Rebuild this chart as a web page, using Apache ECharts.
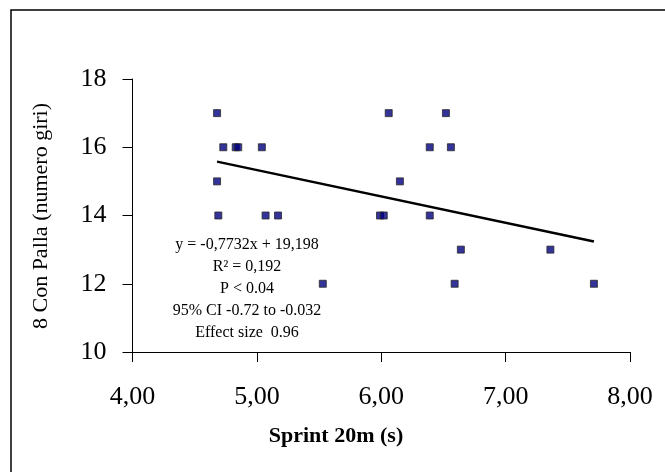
<!DOCTYPE html>
<html>
<head>
<meta charset="utf-8">
<script src="https://cdn.jsdelivr.net/npm/echarts@6/dist/echarts.min.js"></script>
<style>
  html, body { margin: 0; padding: 0; background: #fff; }
  #chart { width: 665px; height: 472px; }
</style>
</head>
<body>
<div id="chart"></div>
<script>
// Sprint 20m time (s) vs laps completed in the "8 con palla" drill
var sprintTimes = [4.68, 6.06, 6.52, 4.73, 4.83, 4.85, 5.04, 6.39, 6.56, 4.68, 6.15,
                   4.69, 5.07, 5.17, 5.99, 6.02, 6.39, 6.64, 7.36, 5.53, 6.59, 7.71];
var lapCounts   = [17, 17, 17, 16, 16, 16, 16, 16, 16, 15, 15,
                   14, 14, 14, 14, 14, 14, 13, 13, 12, 12, 12];

// Linear fit reported on the chart
var fitSlope = -0.7732;
var fitIntercept = 19.198;

var statLines = [
  'y = -0,7732x + 19,198',
  'R\u00b2 = 0,192',
  'P < 0.04',
  '95% CI -0.72 to -0.032',
  'Effect size  0.96'
];

var xTicks = [4, 5, 6, 7, 8];
var yTicks = [10, 12, 14, 16, 18];

var points = sprintTimes.map(function (x, i) { return [x, lapCounts[i]]; });
var xMin = Math.min.apply(null, sprintTimes);
var xMax = Math.max.apply(null, sprintTimes);
var fitLine = [
  [xMin, fitSlope * xMin + fitIntercept],
  [xMax, fitSlope * xMax + fitIntercept]
];

var serif = '"Liberation Serif", "Times New Roman", serif';

var chart = echarts.init(document.getElementById('chart'));
chart.setOption({
  animation: false,
  backgroundColor: '#ffffff',
  grid: { left: 132.5, right: 35, top: 79, bottom: 120, containLabel: false },
  xAxis: {
    type: 'value',
    min: xTicks[0], max: xTicks[xTicks.length - 1], interval: 1,
    axisLine: { show: true, onZero: false, lineStyle: { color: '#000', width: 1 } },
    axisTick: { show: true, inside: false, length: 10, lineStyle: { color: '#000', width: 1 } },
    splitLine: { show: false },
    axisLabel: {
      margin: 32, color: '#000', fontFamily: serif, fontSize: 26,
      formatter: function (v) { return v.toFixed(2).replace('.', ','); }
    }
  },
  yAxis: {
    type: 'value',
    min: yTicks[0], max: yTicks[yTicks.length - 1], interval: 2,
    axisLine: { show: true, onZero: false, lineStyle: { color: '#000', width: 1 } },
    axisTick: { show: true, inside: false, length: 10, lineStyle: { color: '#000', width: 1 } },
    splitLine: { show: false },
    axisLabel: { margin: 26, color: '#000', fontFamily: serif, fontSize: 26 }
  },
  graphic: [
    {
      // outer chart frame (left and top edges fall inside the canvas)
      type: 'rect', silent: true, z: -1,
      shape: { x: 11, y: 10, width: 700, height: 500 },
      style: { fill: 'none', stroke: '#000', lineWidth: 1.5 }
    },
    {
      type: 'text', silent: true,
      x: 336, y: 436,
      style: {
        text: 'Sprint 20m (s)', fill: '#000', fontFamily: serif,
        fontSize: 22, fontWeight: 'bold', align: 'center', verticalAlign: 'middle'
      }
    },
    {
      type: 'text', silent: true,
      x: 41, y: 216, rotation: Math.PI / 2,
      style: {
        text: '8 Con Palla (numero giri)', fill: '#000', fontFamily: serif,
        fontSize: 22, align: 'center', verticalAlign: 'middle'
      }
    },
    {
      type: 'text', silent: true, z: 0,
      x: 247, y: 234,
      style: {
        text: statLines.join('\n'), fill: '#000', fontFamily: serif,
        fontSize: 16, lineHeight: 22, align: 'center', verticalAlign: 'top'
      }
    }
  ],
  series: [
    {
      type: 'line',
      data: fitLine,
      symbol: 'none',
      z: 2,
      lineStyle: { color: '#000', width: 2.5 },
      silent: true
    },
    {
      type: 'scatter',
      data: points,
      symbol: 'rect',
      symbolSize: 7,
      z: 3,
      itemStyle: { color: '#000080', borderColor: '#2b2b2b', borderWidth: 1 }
    }
  ]
});
</script>
</body>
</html>
